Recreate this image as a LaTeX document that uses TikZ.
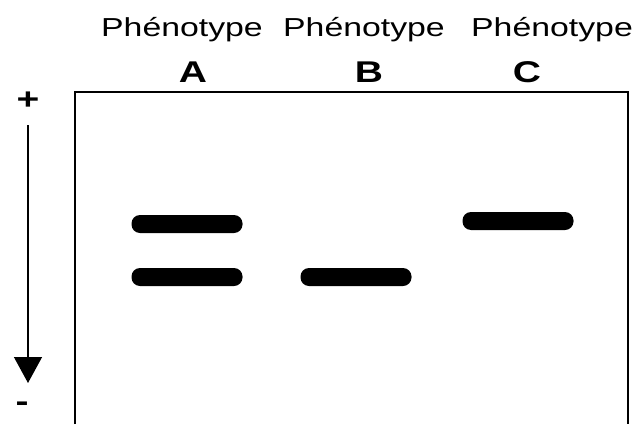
\documentclass[tikz,border=0pt]{standalone}
\usepackage{fontspec}
\setmainfont{Liberation Sans}
\newfontfamily\widefont[FakeStretch=1.3]{Liberation Sans}
\usetikzlibrary{arrows.meta, positioning}

\begin{document}
\begin{tikzpicture}
	[x=1pt, y=1pt, band/.style={draw=none, fill=black, rectangle, rounded corners=8.5pt, minimum width=111pt, minimum height=18pt, inner sep=0pt},
	 pheno/.style={font=\widefont\fontsize{26}{26}\selectfont, inner sep=0pt},
	 letter/.style={font=\widefont\bfseries\fontsize{30}{30}\selectfont, inner sep=0pt},
	 pole/.style={font=\widefont\bfseries\fontsize{30}{30}\selectfont, inner sep=0pt}]
   \useasboundingbox (0,0) rectangle (644,424);
   % titres des colonnes
   \node[pheno] (pA) at (182,394) {Phénotype};
   \node[pheno] (pB) at (364,394) {Phénotype};
   \node[pheno] (pC) at (552,394) {Phénotype};
   \node[letter] (lA) at (193,352) {A};
   \node[letter] (lB) at (369,352) {B};
   \node[letter] (lC) at (527,352) {C};
   % gel
   \draw[line width=1.6pt] (75,0) |- (628,332) -- (628,0);
   \node[band] (a1) at (187,200) {};
   \node[band] (a2) at (187,147) {};
   \node[band] (b1) at (356,147) {};
   \node[band] (c1) at (518,203) {};
   % migration
   \node[pole] (plus) at (28,323) {+};
   \node[pole] (minus) at (22,17) {-};
   \coordinate (start) at (28,299);
   \coordinate (stop) at (28,41);
   \draw[line width=1.3pt, -{Triangle[width=28pt,length=26pt]}] (start) -- (stop);
\end{tikzpicture}
\end{document}
